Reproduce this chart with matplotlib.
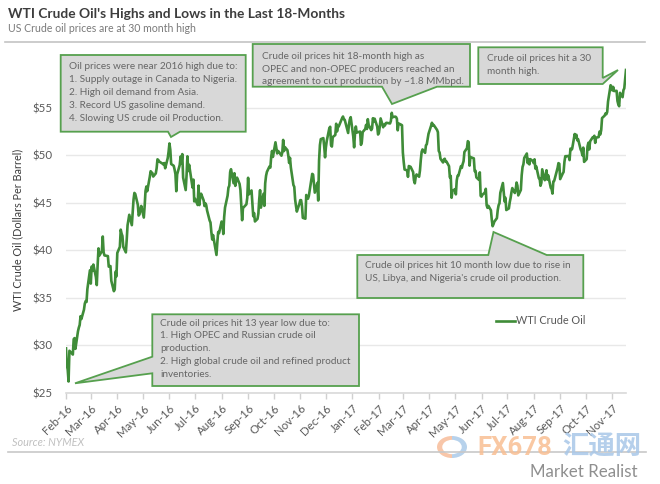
import matplotlib
matplotlib.use("Agg")
import matplotlib.pyplot as plt
import pandas as pd
from matplotlib.patches import Polygon, Wedge
from matplotlib.lines import Line2D

# ---------------- data ----------------
days_2016 = [
    "02-08", "02-09", "02-10", "02-11", "02-12", "02-16", "02-17", "02-18", "02-19",
    "02-22", "02-23", "02-24", "02-25", "02-26", "02-29",
    "03-01", "03-02", "03-03", "03-04", "03-07", "03-08", "03-09", "03-10", "03-11",
    "03-14", "03-15", "03-16", "03-17", "03-18", "03-21", "03-22", "03-23", "03-24",
    "03-28", "03-29", "03-30", "03-31",
    "04-01", "04-04", "04-05", "04-06", "04-07", "04-08", "04-11", "04-12", "04-13",
    "04-14", "04-15", "04-18", "04-19", "04-20", "04-21", "04-22", "04-25", "04-26",
    "04-27", "04-28", "04-29",
    "05-02", "05-03", "05-04", "05-05", "05-06", "05-09", "05-10", "05-11", "05-12",
    "05-13", "05-16", "05-17", "05-18", "05-19", "05-20", "05-23", "05-24", "05-25",
    "05-26", "05-27", "05-31",
    "06-01", "06-02", "06-03", "06-06", "06-07", "06-08", "06-09", "06-10", "06-13",
    "06-14", "06-15", "06-16", "06-17", "06-20", "06-21", "06-22", "06-23", "06-24",
    "06-27", "06-28", "06-29", "06-30",
    "07-01", "07-05", "07-06", "07-07", "07-08", "07-11", "07-12", "07-13", "07-14",
    "07-15", "07-18", "07-19", "07-20", "07-21", "07-22", "07-25", "07-26", "07-27",
    "07-28", "07-29",
    "08-01", "08-02", "08-03", "08-04", "08-05", "08-08", "08-09", "08-10", "08-11",
    "08-12", "08-15", "08-16", "08-17", "08-18", "08-19", "08-22", "08-23", "08-24",
    "08-25", "08-26", "08-29", "08-30", "08-31",
    "09-01", "09-02", "09-06", "09-07", "09-08", "09-09", "09-12", "09-13", "09-14",
    "09-15", "09-16", "09-19", "09-20", "09-21", "09-22", "09-23", "09-26", "09-27",
    "09-28", "09-29", "09-30",
    "10-03", "10-04", "10-05", "10-06", "10-07", "10-10", "10-11", "10-12", "10-13",
    "10-14", "10-17", "10-18", "10-19", "10-20", "10-21", "10-24", "10-25", "10-26",
    "10-27", "10-28", "10-31",
    "11-01", "11-02", "11-03", "11-04", "11-07", "11-08", "11-09", "11-10", "11-11",
    "11-14", "11-15", "11-16", "11-17", "11-18", "11-21", "11-22", "11-23", "11-25",
    "11-28", "11-29", "11-30",
    "12-01", "12-02", "12-05", "12-06", "12-07", "12-08", "12-09", "12-12", "12-13",
    "12-14", "12-15", "12-16", "12-19", "12-20", "12-21", "12-22", "12-23", "12-27",
    "12-28", "12-29", "12-30",
]
wti_2016 = [
    29.69, 27.94, 27.45, 26.21, 29.44, 29.04, 30.66, 30.77, 29.64,
    31.48, 31.87, 32.15, 33.07, 32.78, 33.75,
    34.40, 34.66, 34.57, 35.92, 37.90, 36.50, 38.29, 37.84, 38.50,
    37.18, 36.34, 38.46, 40.20, 39.44, 39.91, 41.45, 39.79, 39.46,
    39.39, 38.28, 38.32, 38.34,
    36.79, 35.70, 35.89, 37.75, 37.26, 39.72, 40.36, 42.17, 41.76,
    41.50, 40.36, 39.78, 41.08, 42.63, 43.18, 43.73, 42.64, 44.04,
    45.33, 46.03, 45.92,
    44.78, 43.65, 43.78, 44.32, 44.66, 43.44, 44.66, 46.23, 46.70,
    46.21, 47.72, 48.31, 48.19, 48.12, 47.75, 48.08, 48.62, 49.56,
    49.48, 49.33, 49.10,
    49.01, 49.17, 48.62, 49.69, 50.36, 51.23, 50.56, 49.07, 48.88,
    48.49, 48.01, 46.21, 47.98, 48.96, 49.85, 49.13, 50.11, 47.64,
    46.33, 47.85, 49.88, 48.33,
    48.99, 46.60, 47.43, 45.14, 45.41, 44.76, 46.80, 44.75, 45.68,
    45.95, 45.24, 44.65, 44.94, 44.75, 44.19, 43.13, 42.92, 41.92,
    41.14, 41.60,
    40.06, 39.51, 40.83, 41.93, 41.80, 43.02, 42.77, 41.71, 43.49,
    44.49, 45.74, 46.58, 46.79, 48.22, 48.52, 47.05, 48.10, 46.77,
    47.33, 47.64, 46.98, 46.35, 44.70,
    43.16, 44.44, 44.83, 45.50, 47.62, 45.88, 46.29, 44.90, 43.58,
    43.91, 43.03, 43.30, 43.85, 45.34, 46.32, 44.48, 45.93, 44.67,
    47.05, 47.83, 48.24,
    48.81, 48.69, 49.83, 50.44, 49.81, 51.35, 50.79, 50.18, 50.44,
    50.35, 49.94, 50.29, 51.60, 50.43, 50.85, 50.52, 49.96, 49.18,
    49.72, 48.70, 46.86,
    46.67, 45.34, 44.66, 44.07, 44.89, 45.27, 45.27, 44.66, 43.41,
    43.32, 45.81, 45.57, 45.42, 45.69, 47.49, 48.03, 47.96, 46.06,
    47.08, 45.23, 49.44,
    51.06, 51.68, 51.79, 50.93, 49.77, 50.84, 51.50, 52.83, 52.98,
    51.04, 50.90, 51.90, 52.12, 53.30, 52.49, 52.95, 53.02, 53.90,
    54.06, 53.77, 53.72,
]
days_2017 = [
    "01-03", "01-04", "01-05", "01-06", "01-09", "01-10", "01-11", "01-12", "01-13",
    "01-17", "01-18", "01-19", "01-20", "01-23", "01-24", "01-25", "01-26", "01-27",
    "01-30", "01-31",
    "02-01", "02-02", "02-03", "02-06", "02-07", "02-08", "02-09", "02-10", "02-13",
    "02-14", "02-15", "02-16", "02-17", "02-21", "02-22", "02-23", "02-24", "02-27",
    "02-28",
    "03-01", "03-02", "03-03", "03-06", "03-07", "03-08", "03-09", "03-10", "03-13",
    "03-14", "03-15", "03-16", "03-17", "03-20", "03-21", "03-22", "03-23", "03-24",
    "03-27", "03-28", "03-29", "03-30", "03-31",
    "04-03", "04-04", "04-05", "04-06", "04-07", "04-10", "04-11", "04-12", "04-13",
    "04-17", "04-18", "04-19", "04-20", "04-21", "04-24", "04-25", "04-26", "04-27",
    "04-28",
    "05-01", "05-02", "05-03", "05-04", "05-05", "05-08", "05-09", "05-10", "05-11",
    "05-12", "05-15", "05-16", "05-17", "05-18", "05-19", "05-22", "05-23", "05-24",
    "05-25", "05-26", "05-30", "05-31",
    "06-01", "06-02", "06-05", "06-06", "06-07", "06-08", "06-09", "06-12", "06-13",
    "06-14", "06-15", "06-16", "06-19", "06-20", "06-21", "06-22", "06-23", "06-26",
    "06-27", "06-28", "06-29", "06-30",
    "07-03", "07-05", "07-06", "07-07", "07-10", "07-11", "07-12", "07-13", "07-14",
    "07-17", "07-18", "07-19", "07-20", "07-21", "07-24", "07-25", "07-26", "07-27",
    "07-28", "07-31",
    "08-01", "08-02", "08-03", "08-04", "08-07", "08-08", "08-09", "08-10", "08-11",
    "08-14", "08-15", "08-16", "08-17", "08-18", "08-21", "08-22", "08-23", "08-24",
    "08-25", "08-28", "08-29", "08-30", "08-31",
    "09-01", "09-05", "09-06", "09-07", "09-08", "09-11", "09-12", "09-13", "09-14",
    "09-15", "09-18", "09-19", "09-20", "09-21", "09-22", "09-25", "09-26", "09-27",
    "09-28", "09-29",
    "10-02", "10-03", "10-04", "10-05", "10-06", "10-09", "10-10", "10-11", "10-12",
    "10-13", "10-16", "10-17", "10-18", "10-19", "10-20", "10-23", "10-24", "10-25",
    "10-26", "10-27", "10-30", "10-31",
    "11-01", "11-02", "11-03", "11-06", "11-07", "11-08", "11-09", "11-10", "11-13",
    "11-14", "11-15", "11-16", "11-17", "11-20", "11-21", "11-22", "11-24",
]
wti_2017 = [
    52.33, 53.26, 53.76, 53.99, 51.96, 50.82, 52.25, 53.01, 52.37,
    52.48, 51.08, 51.37, 52.42, 52.75, 53.18, 52.75, 53.78, 53.17,
    52.63, 52.81,
    53.88, 53.54, 53.83, 53.01, 52.17, 52.34, 53.00, 53.86, 52.93,
    53.20, 53.11, 53.36, 53.40, 53.33, 53.59, 54.45, 53.99, 54.05,
    54.01,
    53.83, 52.61, 53.33, 53.20, 53.14, 50.28, 49.28, 48.49, 48.40,
    47.72, 48.86, 48.75, 48.78, 48.22, 47.34, 47.04, 47.70, 47.97,
    47.73, 48.37, 49.51, 50.35, 50.60,
    50.24, 51.03, 51.15, 51.70, 52.24, 53.08, 53.40, 53.11, 53.18,
    52.65, 52.41, 50.44, 50.27, 49.62, 49.23, 49.56, 49.62, 49.33,
    49.33,
    48.84, 47.66, 47.82, 45.52, 46.22, 46.43, 45.88, 47.33, 47.83,
    47.84, 48.85, 48.66, 49.07, 49.35, 50.33, 50.73, 51.47, 51.36,
    48.90, 49.80, 49.66, 48.32,
    48.36, 47.66, 47.40, 48.19, 45.72, 45.64, 45.83, 46.08, 46.46,
    44.73, 44.46, 44.68, 44.20, 43.23, 42.53, 42.74, 43.01, 43.38,
    44.24, 44.74, 44.93, 46.04,
    47.07, 45.13, 45.52, 44.23, 44.40, 45.04, 45.49, 46.08, 46.54,
    46.02, 46.40, 47.12, 46.79, 45.77, 46.34, 47.89, 48.75, 49.04,
    49.71, 50.17,
    49.16, 49.59, 49.03, 49.58, 49.39, 49.17, 49.56, 48.59, 48.82,
    47.59, 47.55, 46.78, 47.09, 48.51, 47.37, 47.64, 48.41, 47.43,
    47.87, 46.57, 46.44, 45.96, 47.23,
    47.29, 48.66, 49.16, 49.09, 47.48, 48.07, 48.23, 49.30, 49.89,
    49.89, 49.91, 49.48, 50.69, 50.55, 50.66, 52.22, 51.88, 52.14,
    51.56, 51.67,
    50.58, 50.42, 49.98, 50.79, 49.29, 49.58, 50.92, 51.30, 50.60,
    51.45, 51.87, 51.88, 52.04, 51.29, 51.84, 51.90, 52.47, 52.18,
    52.64, 53.90, 54.15, 54.38,
    54.30, 54.54, 55.64, 57.35, 57.20, 56.81, 57.17, 56.74, 56.76,
    55.70, 55.33, 55.14, 56.55, 56.09, 56.83, 57.02, 58.95,
]
month_labels = ["Feb-16", "Mar-16", "Apr-16", "May-16", "Jun-16", "Jul-16", "Aug-16",
                "Sep-16", "Oct-16", "Nov-16", "Dec-16", "Jan-17", "Feb-17", "Mar-17",
                "Apr-17", "May-17", "Jun-17", "Jul-17", "Aug-17", "Sep-17", "Oct-17",
                "Nov-17"]
price_ticks = [25, 30, 35, 40, 45, 50, 55]
series_name = "WTI Crude Oil"

dates = pd.to_datetime(["2016-" + d for d in days_2016] + ["2017-" + d for d in days_2017])
prices = wti_2016 + wti_2017
tick_dates = pd.to_datetime(["08-" + m for m in month_labels], format="%d-%b-%y")

# ---------------- style ----------------
GREEN = "#3f8c38"
BORDER = "#56a04e"
BOXFILL = "#d8d8d8"
TXT = "#666666"
AXTXT = "#595959"
FONT = ["Lato", "DejaVu Sans"]
plt.rcParams["font.family"] = FONT

W, H = 660, 484
fig = plt.figure(figsize=(W / 100, H / 100), dpi=100)
fig.patch.set_facecolor("white")


def fx(x):
    return x / W


def fy(y):
    return 1 - y / H


y_bottom, y_top = 393, 60
ax = fig.add_axes([fx(66), fy(y_bottom), fx(626) - fx(66), (y_bottom - y_top) / H])
ax.plot(dates, prices, color=GREEN, lw=1.9, label=series_name, solid_joinstyle="round")
ax.set_xlim(pd.Timestamp("2016-02-08"), pd.Timestamp("2017-11-24"))
ax.set_ylim(25, 60)
ax.set_yticks(price_ticks)
ax.set_yticklabels(["$%d" % v for v in price_ticks], color=AXTXT, fontsize=8.3)
ax.set_xticks(tick_dates)
ax.set_xticklabels(month_labels, rotation=45, ha="right", rotation_mode="anchor",
                   color=AXTXT, fontsize=8.3)
ax.tick_params(axis="y", length=0, pad=10)
ax.tick_params(axis="x", length=4, color="#d0d0d0", width=1, pad=3)
ax.grid(axis="y", color="#e8e8e8", lw=1)
ax.set_axisbelow(True)
for s in ["left", "right", "top"]:
    ax.spines[s].set_visible(False)
ax.spines["bottom"].set_color("#d9d9d9")
ax.spines["bottom"].set_linewidth(1.2)

ax.legend(loc="center left", bbox_to_anchor=(fx(486), fy(321)), bbox_transform=fig.transFigure,
          frameon=False, handlelength=1.8, handletextpad=0.1, fontsize=7.8,
          labelcolor=AXTXT)

# ---------------- header / footer ----------------
fig.text(fx(8), fy(14), "WTI Crude Oil's Highs and Lows in the Last 18-Months",
         fontsize=9.9, fontweight="bold", color="#3d3d3d", va="center", ha="left")
fig.text(fx(8), fy(29), "US Crude oil prices are at 30 month high",
         fontsize=7.6, color="#7a7a7a", va="center", ha="left")
fig.add_artist(Line2D([fx(5), fx(645)], [fy(41.7), fy(41.7)], color="#c4c4c4", lw=1.2,
                      transform=fig.transFigure))
fig.text(fx(18), fy(230), "WTI Crude Oil (Dollars Per Barrel)", rotation=90,
         fontsize=7.8, color="#3d3d3d", va="center", ha="center")
fig.text(fx(12), fy(442), "Source: NYMEX", fontsize=7.8, style="italic",
         color="#c0c0c0", va="center", ha="left")
fig.add_artist(Line2D([fx(8), fx(646)], [fy(451.7), fy(451.7)], color="#c8c8c8", lw=1.2,
                      transform=fig.transFigure))


# ---------------- callouts ----------------
def callout(pts, lines, tx, ty, dy):
    poly = Polygon([(fx(x), fy(y)) for x, y in pts], closed=True, transform=fig.transFigure,
                   facecolor=BOXFILL, edgecolor=BORDER, lw=1.3, joinstyle="miter", zorder=5)
    fig.add_artist(poly)
    for i, ln in enumerate(lines):
        fig.text(fx(tx), fy(ty + i * dy), ln, fontsize=7.2, color=TXT, va="center",
                 ha="left", zorder=6)


callout([(60.7, 55), (245.7, 55), (245.7, 131.7), (180, 131.7), (171, 137),
         (168, 131.7), (60.7, 131.7)],
        ["Oil prices were near 2016 high due to:",
         "1. Supply outage in Canada to Nigeria.",
         "2. High oil demand from Asia.",
         "3. Record US gasoline demand.",
         "4. Slowing US crude oil Production."], 69.3, 66.5, 12.9)

callout([(252.7, 44), (470, 44), (470, 86.7), (437, 86.7), (392, 104), (382, 86.7),
         (252.7, 86.7)],
        ["Crude oil prices hit 18-month high as",
         "OPEC and non-OPEC producers reached an",
         "agreement to cut production by ~1.8 MMbpd."], 261.7, 56.7, 12.5)

callout([(478.3, 47.3), (602.7, 47.3), (602.7, 78), (618, 70), (602.7, 84),
         (478.3, 84)],
        ["Crude oil prices hit a 30", "month high."], 486.7, 58.3, 13.3)

callout([(357.3, 255), (488.3, 255), (493.5, 232), (546.7, 255), (583.3, 255),
         (583.3, 298), (357.3, 298)],
        ["Crude oil prices hit 10 month low due to rise in",
         "US, Libya, and Nigeria's crude oil production."], 365, 266, 12.3)

callout([(152.3, 314.3), (359, 314.3), (359, 386), (152.3, 386), (152.3, 373.3),
         (75, 383.3), (152.3, 356.7)],
        ["Crude oil prices hit 13 year low due to:",
         "1. High OPEC and Russian crude oil",
         "production.",
         "2. High global crude oil and refined product",
         "inventories."], 160, 323.3, 12.7)

# ---------------- watermark / logo ----------------
cx, cy = fx(452), fy(447)
r = 15 / W
fig.add_artist(Wedge((cx, cy), r, 90, 270, width=r * 0.35, transform=fig.transFigure,
                     facecolor="#f6b48c", edgecolor="none", alpha=0.75))
fig.add_artist(Wedge((cx, cy), r, -90, 90, width=r * 0.35, transform=fig.transFigure,
                     facecolor="#9fc3e6", edgecolor="none", alpha=0.75))
fig.text(fx(477), fy(448), "FX678", fontsize=18.5, fontweight="bold", color="#f9bf93",
         alpha=0.85, va="center", ha="left", family=["Roboto", "DejaVu Sans"])
fig.text(fx(562), fy(447), "汇通网", fontsize=19, fontweight="bold", color="#a8c7e8",
         alpha=0.85, va="center", ha="left", family=["Noto Sans CJK SC", "DejaVu Sans"])
fig.text(fx(530), fy(472), "Market Realist", fontsize=12.2, color="#8f8f8f",
         va="center", ha="left")

fig.savefig("out.png", dpi=100, facecolor="white")
